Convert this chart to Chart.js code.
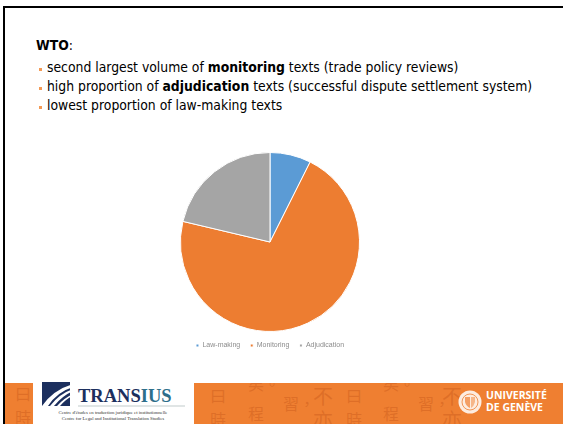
<!DOCTYPE html>
<html>
<head>
<meta charset="utf-8">
<script src="https://cdn.jsdelivr.net/npm/chart.js@4.4.1/dist/chart.umd.min.js"></script>
<style>
  html, body { margin: 0; padding: 0; background: #fff; }
  body { width: 563px; height: 424px; position: relative; overflow: hidden; font-family: "DejaVu Sans Condensed", "DejaVu Sans", sans-serif; }
  .frame-top { position: absolute; left: 3px; top: 6px; width: 560px; height: 2px; background: #000; }
  .frame-left { position: absolute; left: 3px; top: 6px; width: 2px; height: 418px; background: #000; }
  .txt { position: absolute; font-size: 13.8px; color: #000; white-space: nowrap; }
  .bullet { position: absolute; width: 3px; height: 3px; background: #f39a55; }
  #chartBox { position: absolute; left: 150px; top: 152px; width: 240px; height: 207px; }
  .band { position: absolute; left: 5px; top: 383px; width: 558px; height: 41px; background: #ef7f31; overflow: hidden; }
  .han { position: absolute; font-family: "Noto Sans CJK TC", sans-serif; font-size: 16px; color: rgba(190, 80, 20, 0.35); }
  .logoBox { position: absolute; left: 33px; top: 380px; width: 161px; height: 44px; background: #fff; }
  .unige { position: absolute; left: 486px; top: 389px; color: #fff; font-family: "Open Sans", sans-serif; font-weight: 700; font-size: 10.5px; line-height: 12px; }
</style>
</head>
<body>
<div class="frame-top"></div>
<div class="frame-left"></div>

<div class="txt" style="left:36px; top:37px;"><b>WTO</b>:</div>
<div class="bullet" style="left:39px; top:68px;"></div>
<div class="txt" style="left:47px; top:59px;">second largest volume of <b>monitoring</b> texts (trade policy reviews)</div>
<div class="bullet" style="left:39px; top:87px;"></div>
<div class="txt" style="left:47px; top:78px;">high proportion of <b>adjudication</b> texts (successful dispute settlement system)</div>
<div class="bullet" style="left:39px; top:106px;"></div>
<div class="txt" style="left:47px; top:97px;">lowest proportion of law-making texts</div>

<div id="chartBox"><canvas id="pieChart"></canvas></div>

<div class="band">
  <div class="han" style="left:10px; top:-2px;">曰</div>
  <div class="han" style="left:10px; top:22px;">時</div>
  <div class="han" style="left:205px; top:0px;">曰</div>
  <div class="han" style="left:205px; top:24px;">時</div>
  <div class="han" style="left:243px; top:-12px;">矣。</div>
  <div class="han" style="left:243px; top:18px;">程</div>
  <div class="han" style="left:278px; top:8px;">習，</div>
  <div class="han" style="left:308px; top:-2px; font-size:20px;">不</div>
  <div class="han" style="left:308px; top:22px; font-size:20px;">亦</div>
  <div class="han" style="left:341px; top:0px;">曰</div>
  <div class="han" style="left:341px; top:24px;">時</div>
  <div class="han" style="left:378px; top:-12px;">矣。</div>
  <div class="han" style="left:378px; top:18px;">程</div>
  <div class="han" style="left:413px; top:8px;">習，</div>
  <div class="han" style="left:437px; top:-2px; font-size:20px;">不</div>
  <div class="han" style="left:437px; top:22px; font-size:20px;">亦</div>
</div>

<div class="logoBox">
  <svg width="161" height="44" style="position:absolute;left:0;top:0">
    <rect x="9" y="2" width="28" height="24" fill="#1c2f5e"/>
    <path d="M9 26 Q20 10 40 4 L40 7 Q24 12 15 26 Z" fill="#fff"/>
    <path d="M17 26 Q26 14 40 9 L40 11 Q29 16 21 26 Z" fill="#fff"/>
    <path d="M24 26 Q31 18 40 14 L40 15.5 Q33 19 27 26 Z" fill="#fff"/>
    <text x="45" y="22" font-family="Liberation Serif, serif" font-weight="700" font-size="18.5" fill="#1c2f5e">TRANS<tspan fill="#2d6e8a">IUS</tspan></text>
    <line x1="45" y1="26" x2="152" y2="26" stroke="#9aa" stroke-width="0.6"/>
    <text x="80" y="34" text-anchor="middle" font-family="Liberation Serif, serif" font-size="4.8" fill="#333">Centre d'études en traduction juridique et institutionnelle</text>
    <text x="80" y="40" text-anchor="middle" font-family="Liberation Serif, serif" font-size="4.8" fill="#333">Centre for Legal and Institutional Translation Studies</text>
  </svg>
</div>

<svg width="26" height="26" style="position:absolute;left:457px;top:389px">
  <circle cx="13" cy="13" r="11.5" fill="#fff" opacity="0.85"/>
  <circle cx="13" cy="13" r="8" fill="none" stroke="#ef7f31" stroke-width="0.8"/>
  <path d="M8 8 L13 8 L13 19 Q9 17 8 13 Z" fill="#ef7f31" opacity="0.7"/>
  <path d="M14 8 L18 8 L18 13 Q17 17 14 19 Z" fill="#ef7f31" opacity="0.5"/>
</svg>
<div class="unige">UNIVERSITÉ<br>DE GENÈVE</div>

<script>
// Chart data
const categories = ['Law-making', 'Monitoring', 'Adjudication'];
const shares = [7.4, 71.3, 21.3];
const sliceColors = ['#5b9bd5', '#ed7d31', '#a5a5a5'];

let ctx = document.getElementById('pieChart').getContext('2d');
let pieChart = new Chart(ctx, {
    type: 'pie',
    data: {
        labels: categories,
        datasets: [{
            data: shares,
            backgroundColor: sliceColors,
            borderColor: '#ffffff',
            borderWidth: 1
        }]
    },
    options: {
        responsive: true,
        maintainAspectRatio: false,
        animation: false,
        layout: { padding: 0 },
        plugins: {
            tooltip: { enabled: false },
            legend: {
                position: 'bottom',
                labels: {
                    usePointStyle: true,
                    pointStyle: 'rect',
                    boxWidth: 3,
                    boxHeight: 3,
                    padding: 10,
                    color: '#8c8c8c',
                    font: { family: 'Liberation Sans', size: 7 }
                }
            }
        }
    }
});
</script>
</body>
</html>
